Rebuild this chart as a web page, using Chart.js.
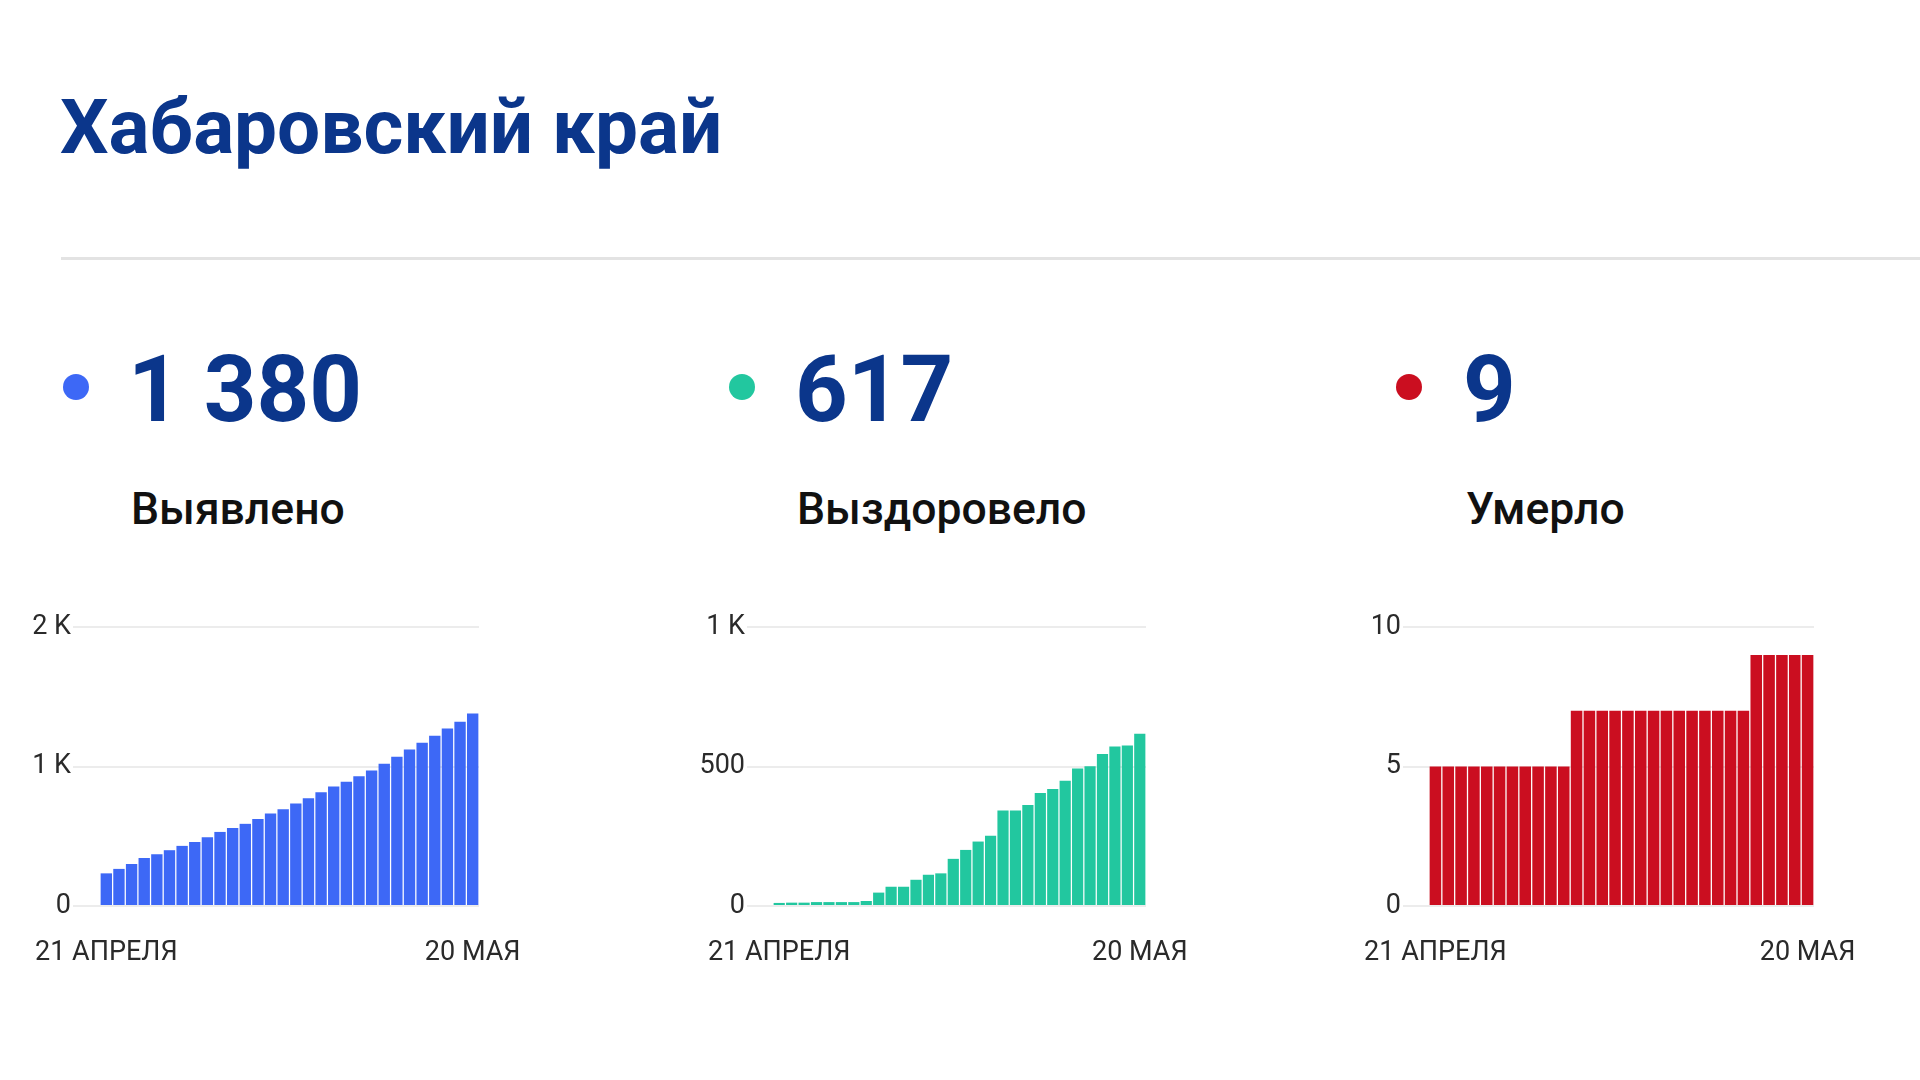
<!DOCTYPE html>
<html><head><meta charset="utf-8">
<script src="https://cdn.jsdelivr.net/npm/chart.js@4"></script>
<style>
html,body{margin:0;padding:0;background:#fff;}
body{width:1920px;height:1080px;position:relative;overflow:hidden;font-family:Roboto,'Noto Sans',sans-serif;}
.abs{position:absolute;white-space:nowrap;line-height:1;}
#title{left:60px;top:88.5px;font-size:76.5px;font-weight:700;color:#0b368b;}
#rule{position:absolute;left:61px;top:257px;width:1859px;height:3px;background:#e3e3e3;}
.dot{position:absolute;width:26px;height:26px;border-radius:50%;top:374px;}
.num{top:344px;font-size:92px;font-weight:700;color:#0b368b;}
.lab{top:487px;font-size:44.5px;font-weight:500;color:#111;}
canvas{position:absolute;}
</style></head>
<body>
<div id="title" class="abs">Хабаровский край</div>
<div id="rule"></div>

<div class="dot" style="left:63px;background:#3d68f6;"></div>
<div class="abs num" style="left:128px;">1 380</div>
<div class="abs lab" style="left:131px;">Выявлено</div>

<div class="dot" style="left:729px;background:#22c79f;"></div>
<div class="abs num" style="left:795px;">617</div>
<div class="abs lab" style="left:797px;">Выздоровело</div>

<div class="dot" style="left:1396px;background:#cb0e20;"></div>
<div class="abs num" style="left:1463px;">9</div>
<div class="abs lab" style="left:1466px;">Умерло</div>

<canvas id="c1" width="520" height="380" style="left:20px;top:600px;"></canvas>
<canvas id="c2" width="520" height="380" style="left:690px;top:600px;"></canvas>
<canvas id="c3" width="560" height="380" style="left:1350px;top:600px;"></canvas>

<script>
// Categories: 21 April – 20 May
const days = ['21 АПРЕЛЯ','22 АПРЕЛЯ','23 АПРЕЛЯ','24 АПРЕЛЯ','25 АПРЕЛЯ','26 АПРЕЛЯ','27 АПРЕЛЯ','28 АПРЕЛЯ','29 АПРЕЛЯ','30 АПРЕЛЯ',
  '1 МАЯ','2 МАЯ','3 МАЯ','4 МАЯ','5 МАЯ','6 МАЯ','7 МАЯ','8 МАЯ','9 МАЯ','10 МАЯ',
  '11 МАЯ','12 МАЯ','13 МАЯ','14 МАЯ','15 МАЯ','16 МАЯ','17 МАЯ','18 МАЯ','19 МАЯ','20 МАЯ'];

// Series
const detected = [234,266,301,344,371,400,431,459,493,531,560,589,624,663,694,734,773,816,856,890,931,971,1019,1069,1122,1170,1220,1273,1321,1380];
const recovered = [11,12,12,14,14,14,14,18,48,69,69,94,112,117,169,201,231,252,342,342,362,405,419,449,493,501,545,572,575,617];
const deaths = [5,5,5,5,5,5,5,5,5,5,5,7,7,7,7,7,7,7,7,7,7,7,7,7,7,9,9,9,9,9];

// Tick labels
const yTicks1 = ['0','1 K','2 K'];
const yTicks2 = ['0','500','1 K'];
const yTicks3 = ['0','5','10'];
const xShown = ['21 АПРЕЛЯ','20 МАЯ'];

Chart.defaults.font.family = 'Roboto, "Noto Sans", sans-serif';
Chart.defaults.animation = false;

function makeChart(id, values, color, yMax, yStep, yTicks, areaLeft, padRight, tickLen) {
  const ctx = document.getElementById(id);
  return new Chart(ctx, {
    type: 'bar',
    data: { labels: days, datasets: [{ data: values, backgroundColor: color, borderWidth: 0,
      barPercentage: 0.9, categoryPercentage: 1.0 }] },
    options: {
      responsive: false,
      animation: false,
      layout: { padding: { top: 27, right: padRight, bottom: 0, left: 0 } },
      plugins: { legend: { display: false }, tooltip: { enabled: false } },
      scales: {
        x: {
          grid: { display: false, drawTicks: false },
          border: { display: false },
          ticks: {
            autoSkip: false, maxRotation: 0, minRotation: 0, padding: 1,
            color: '#2a2a2a', font: { size: 27, lineHeight: 3.4 },
            callback: function(v, i) { return (i === 0 || i === days.length - 1) ? (i === 0 ? xShown[0] : xShown[1]) : ''; }
          },
          afterFit: function(s) { s.height = 74; }
        },
        y: {
          min: 0, max: yMax,
          grid: { color: '#ececec', lineWidth: 2, drawTicks: true, tickLength: tickLen, tickColor: '#ececec' },
          border: { display: false },
          ticks: {
            stepSize: yStep, padding: 2, color: '#2a2a2a', font: { size: 27 },
            callback: function(v, i) { return yTicks[i]; }
          },
          afterFit: function(s) { s.width = areaLeft; }
        }
      }
    }
  });
}

makeChart('c1', detected, '#3d68f6', 2000, 1000, yTicks1, 80, 61, 27);
makeChart('c2', recovered, '#22c79f', 1000, 500, yTicks2, 83, 64, 26);
makeChart('c3', deaths, '#cb0e20', 10, 5, yTicks3, 79, 96, 26);
</script>
</body></html>
